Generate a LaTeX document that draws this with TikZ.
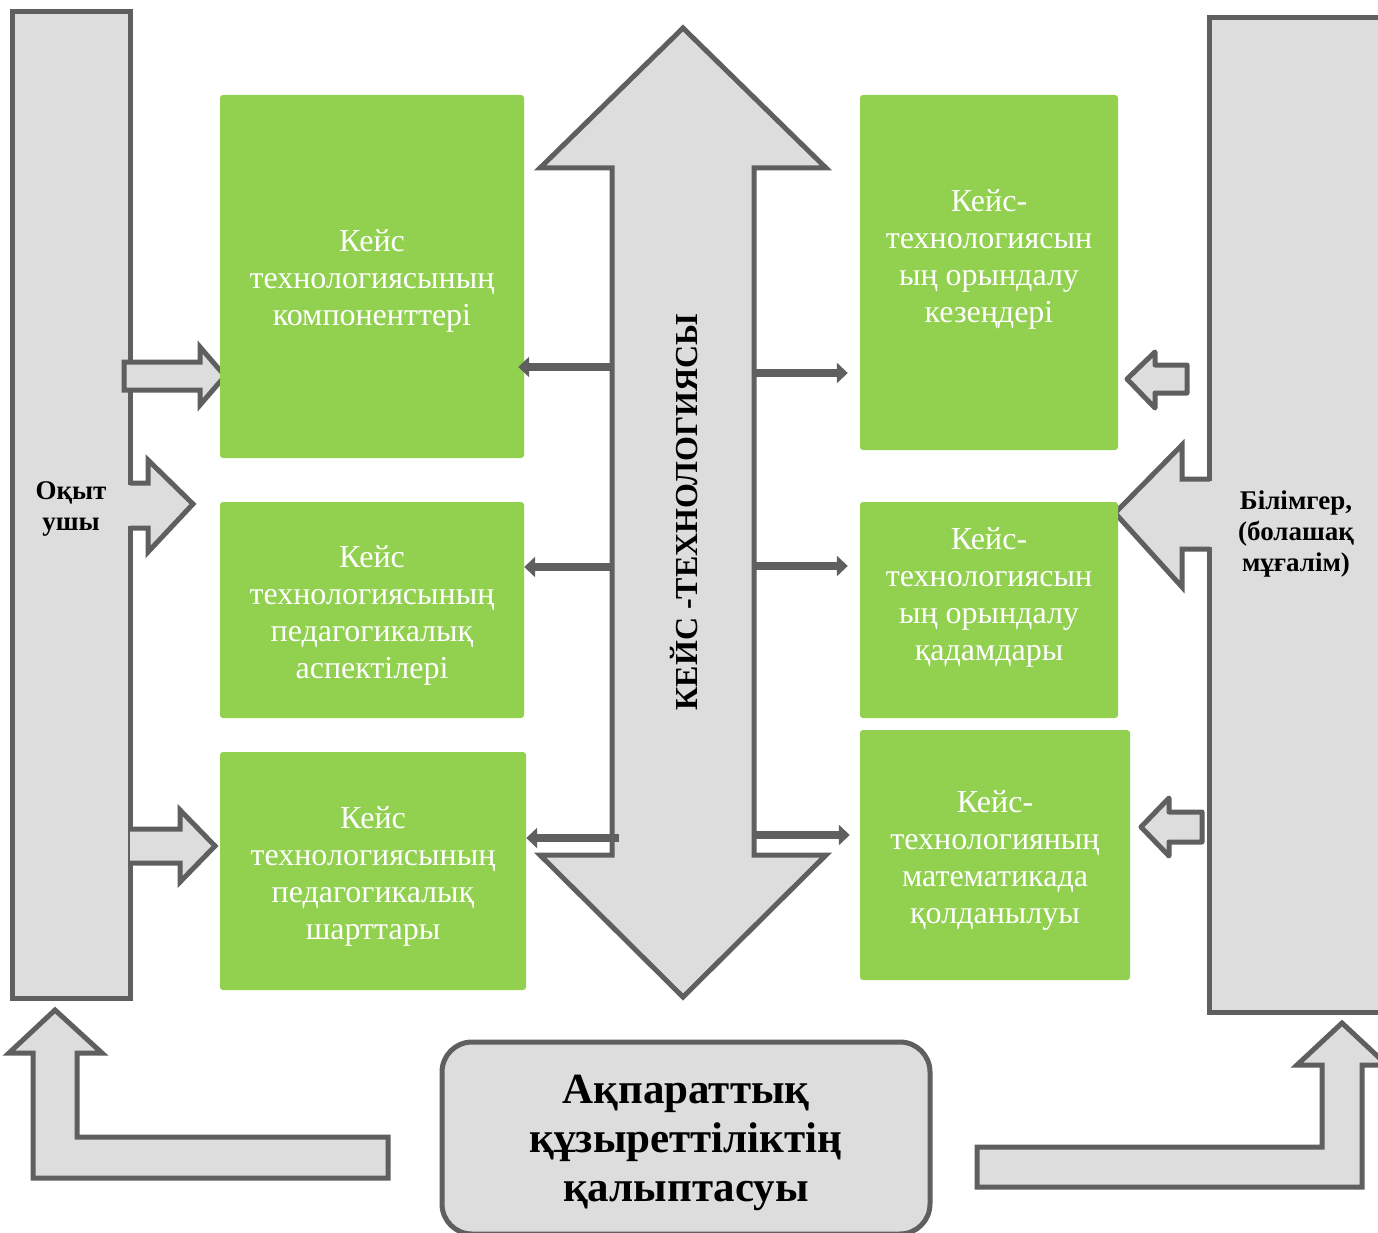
\documentclass[tikz,border=0pt]{standalone}
\usepackage{fontspec}
\setmainfont{Liberation Serif}
\usetikzlibrary{arrows.meta}
\usetikzlibrary{positioning}
\definecolor{boxgreen}{HTML}{92D050}
\definecolor{edgegray}{HTML}{5F5F5F}
\definecolor{fillgray}{HTML}{DDDDDD}
\tikzstyle{sidebox} = [draw=edgegray, fill=fillgray, line width=5pt]
\tikzstyle{blockarrow} = [draw=edgegray, fill=fillgray, line width=5pt]
\tikzstyle{gbox} = [fill=boxgreen, rounded corners=3pt, inner sep=0pt]
\tikzstyle{gtext} = [text=white, align=center, font=\fontsize{32}{37}\selectfont]
\tikzstyle{btext} = [align=center, font=\bfseries\fontsize{27}{31}\selectfont]
\tikzstyle{link} = [draw=edgegray, line width=8pt, -{Triangle[length=11pt,width=20pt]}]

\begin{document}
\begin{tikzpicture}[x=1pt, y=-1pt]
    \clip (0,0) rectangle (1378,1233);

    \draw[sidebox] (12,12) rectangle (130,998);
    \draw[sidebox] (1209,18) rectangle (1400,1012);
    \node[btext] (pupil) at (71,509) {Оқыт\\ушы};
    \node[btext] (teacher) at (1296,534) {Білімгер,\\(болашақ\\мұғалім)};

    \draw[blockarrow] (124,362) -- (200,362) -- (200,347) -- (225,376) -- (200,405) -- (200,390) -- (124,390) -- cycle;
    \fill[fillgray] (125,485) rectangle (150,526);
    \draw[blockarrow] (130,483) -- (148,483) -- (148,460) -- (193,504) -- (148,552) -- (148,528) -- (130,528);
    \draw[blockarrow] (130,829) -- (180,829) -- (180,810) -- (215,846) -- (180,882) -- (180,863) -- (130,863);

    \draw[blockarrow, line join=round] (1187,365) -- (1155,365) -- (1155,352) -- (1127,379) -- (1155,408) -- (1155,393) -- (1187,393) -- cycle;
    \fill[fillgray] (1180,481) rectangle (1214,547);
    \draw[blockarrow] (1210,479) -- (1182,479) -- (1182,445) -- (1115,513) -- (1182,587) -- (1182,549) -- (1210,549);
    \draw[blockarrow, line join=round] (1202,812) -- (1169,812) -- (1169,798) -- (1141,827) -- (1169,856) -- (1169,842) -- (1202,842) -- cycle;

    \draw[blockarrow] (388,1137) -- (77,1137) -- (77,1053) -- (102,1053) -- (55,1010) -- (9,1053) -- (33,1053) -- (33,1178) -- (388,1178) -- cycle;
    \draw[blockarrow] (977,1147) -- (1322,1147) -- (1322,1065) -- (1297,1065) -- (1342,1023) -- (1387,1065) -- (1362,1065) -- (1362,1187) -- (977,1187) -- cycle;

    \node[draw=edgegray, fill=fillgray, line width=5pt, rounded corners=30pt, minimum width=488, minimum height=192] (forming) at (686,1138) {};
    \node[align=center, font=\bfseries\fontsize{43}{49}\selectfont] (forming_txt) at (686,1143) {Ақпараттық\\құзыреттіліктің\\қалыптасуы};

    \node[gbox, minimum width=304, minimum height=363] (comp) at (372,276.5) {};
    \node[gbox, minimum width=304, minimum height=216] (aspect) at (372,610) {};
    \node[gbox, minimum width=306, minimum height=238] (cond) at (373,871) {};
    \node[gbox, minimum width=258, minimum height=355] (stage) at (989,272.5) {};
    \node[gbox, minimum width=258, minimum height=216] (step) at (989,610) {};
    \node[gbox, minimum width=270, minimum height=250] (math) at (995,855) {};

    \node[gtext] (comp_txt) at (372,281) {Кейс\\технологиясының\\компоненттері};
    \node[gtext] (aspect_txt) at (372,615) {Кейс\\технологиясының\\педагогикалық\\аспектілері};
    \node[gtext] (cond_txt) at (373,876) {Кейс\\технологиясының\\педагогикалық\\шарттары};
    \node[gtext] (stage_txt) at (989,259) {Кейс-\\технологиясын\\ың орындалу\\кезеңдері};
    \node[gtext] (step_txt) at (989,597) {Кейс-\\технологиясын\\ың орындалу\\қадамдары};
    \node[gtext] (math_txt) at (995,860) {Кейс-\\технологияның\\математикада\\қолданылуы};

    \draw[blockarrow] (683,28) -- (826,168) -- (754,168) -- (754,855) -- (826,855) -- (683,997) -- (540,855) -- (612,855) -- (612,168) -- (540,168) -- cycle;
    \node[rotate=90, font=\bfseries\fontsize{32}{38}\selectfont] (case_txt) at (684,512) {КЕЙС -ТЕХНОЛОГИЯСЫ};

    \coordinate (l1) at (612,367);
    \coordinate (l2) at (612,567);
    \coordinate (l3) at (619,838);
    \coordinate (r1) at (754,373);
    \coordinate (r2) at (754,566);
    \coordinate (r3) at (754,835);
    \draw[link] (l1) -- ([xshift=-6pt]l1 -| comp.east);
    \draw[link] (l2) -- (l2 -| aspect.east);
    \draw[link] (l3) -- (l3 -| cond.east);
    \draw[link] (r1) -- ([xshift=-12pt]r1 -| stage.west);
    \draw[link] (r2) -- ([xshift=-12pt]r2 -| step.west);
    \draw[link] (r3) -- ([xshift=-10pt]r3 -| math.west);
\end{tikzpicture}
\end{document}
